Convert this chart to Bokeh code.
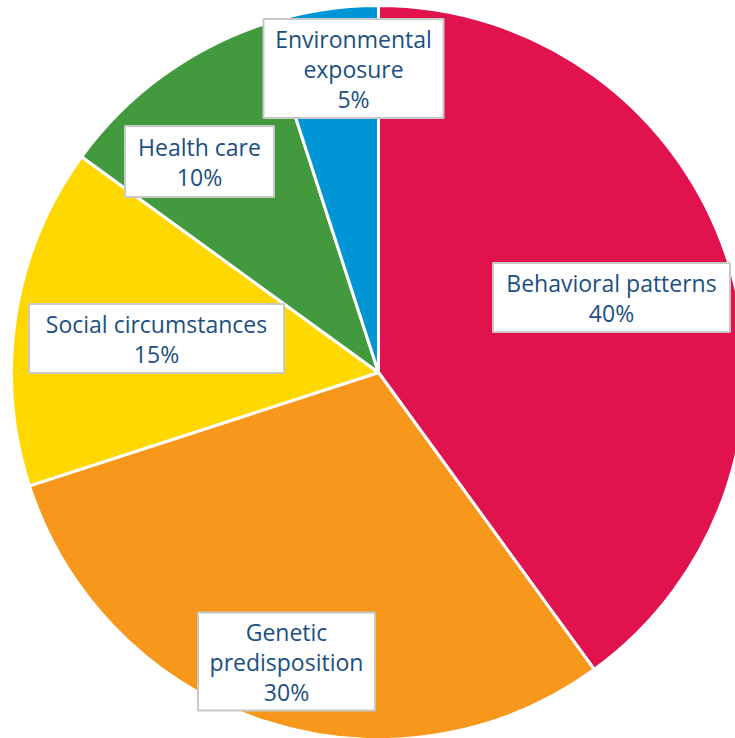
import math
from bokeh.plotting import figure
from bokeh.models import ColumnDataSource, Range1d
from bokeh.core.properties import value
from bokeh.embed import file_html
from bokeh.resources import INLINE

# ---- data ----
categories = ["Behavioral patterns", "Genetic predisposition", "Social circumstances",
              "Health care", "Environmental exposure"]
label_lines = [["Behavioral patterns"], ["Genetic", "predisposition"], ["Social circumstances"],
               ["Health care"], ["Environmental", "exposure"]]
shares = [40, 30, 15, 10, 5]
colors = ["#E1134F", "#F7981D", "#FFD800", "#43993E", "#0096D6"]

# ---- layout (pixel-like data units, pie centred at 0,0) ----
W, H = 735, 738
CX, CY = 378, 372          # pie centre inside figure (from left / from top)
R = 367
box_centers = [(233, 75), (-92, -289), (-222, 34), (-179, 211), (-25, 304)]
box_sizes = [(237, 69), (177, 98), (255, 69), (149, 71), (180, 99)]
LINE = 30

p = figure(width=W, height=H, output_backend="svg", toolbar_location=None,
           x_range=Range1d(-CX, W - CX), y_range=Range1d(-(H - CY), CY),
           min_border=0)
p.axis.visible = False
p.grid.visible = False
p.outline_line_color = None
p.background_fill_color = "white"

total = sum(shares)
starts, ends = [], []
cum = 0
for s in shares:
    a0 = math.pi / 2 - 2 * math.pi * (cum + s) / total
    a1 = math.pi / 2 - 2 * math.pi * cum / total
    starts.append(a0)
    ends.append(a1)
    cum += s

src = ColumnDataSource(dict(start=starts, end=ends, color=colors))
p.wedge(x=0, y=0, radius=R, start_angle="start", end_angle="end",
        fill_color="color", line_color="white", line_width=3, source=src)

bx = [c[0] for c in box_centers]
by = [c[1] for c in box_centers]
bw = [s[0] for s in box_sizes]
bh = [s[1] for s in box_sizes]
p.rect(x=bx, y=by, width=bw, height=bh, fill_color="white",
       line_color="#C8C8C8", line_width=2)

tx, ty, tt = [], [], []
for (cx, cy), lines, sh in zip(box_centers, label_lines, shares):
    allines = lines + [f"{sh}%"]
    n = len(allines)
    for i, t in enumerate(allines):
        tx.append(cx)
        ty.append(cy + (n - 1) / 2 * LINE - i * LINE)
        tt.append(t)

p.text(x=tx, y=ty, text=tt, text_align="center", text_baseline="middle",
       text_font=value("Open Sans"), text_font_size="23px", text_color="#1B4F82")

open("out.html", "w").write(file_html(p, INLINE))
